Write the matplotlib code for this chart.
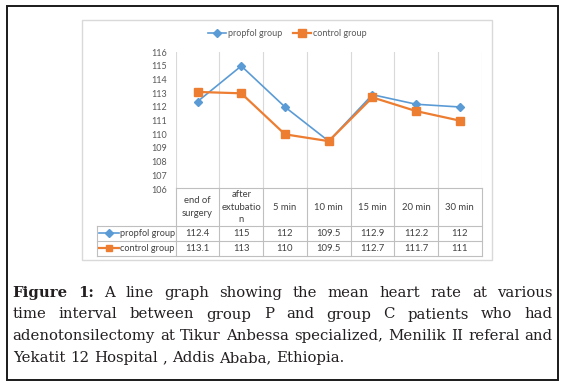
import matplotlib
matplotlib.use("Agg")
import matplotlib.pyplot as plt
from matplotlib.lines import Line2D

# data
categories = ["end of\nsurgery", "after\nextubatio\nn", "5 min", "10 min",
              "15 min", "20 min", "30 min"]
propofol = [112.4, 115, 112, 109.5, 112.9, 112.2, 112]
control = [113.1, 113, 110, 109.5, 112.7, 111.7, 111]
series_names = ["propfol group", "control group"]
y_ticks = list(range(106, 117))

caption_lines = [
    "Figure 1: A line graph showing the mean heart rate at various",
    "time interval between group P and group C patients who had",
    "adenotonsilectomy at Tikur Anbessa specialized, Menilik II referal and",
    "Yekatit 12 Hospital , Addis Ababa, Ethiopia.",
]

W, H = 566, 388
BLUE = "#5b9bd5"
ORANGE = "#ed7d31"
GRID = "#d9d9d9"
TBL = "#bfbfbf"
SANS = ["Lato", "DejaVu Sans"]


def fx(x):
    return x / W


def fy(y):
    return 1 - y / H


fig = plt.figure(figsize=(W / 100, H / 100), dpi=100)

# outer frame and chart frame
fig.add_artist(plt.Rectangle((fx(6.5), fy(380)), fx(551), (380 - 5.5) / H,
                             fill=False, ec="#1a1a1a", lw=1.4,
                             transform=fig.transFigure))
fig.add_artist(plt.Rectangle((fx(81.7), fy(260)), fx(410), (260 - 20) / H,
                             fill=False, ec=GRID, lw=1.0,
                             transform=fig.transFigure))

# plot area
left, right, top, bottom = 175.7, 481.7, 52.3, 189.0
ax = fig.add_axes([fx(left), fy(bottom), fx(right - left), (bottom - top) / H])
n = len(categories)
xs = [i + 0.5 for i in range(n)]
ax.set_xlim(0, n)
ax.set_ylim(min(y_ticks), max(y_ticks))
for b in range(n + 1):
    ax.axvline(b, color=GRID, lw=0.8, zorder=0)
ax.plot(xs, propofol, color=BLUE, lw=1.2, marker="D", ms=4.5,
        label=series_names[0], zorder=3)
ax.plot(xs, control, color=ORANGE, lw=1.6, marker="s", ms=5.5,
        label=series_names[1], zorder=4)
ax.set_yticks(y_ticks)
ax.set_yticklabels([str(t) for t in y_ticks], fontsize=6.5, color="#595959",
                   family=SANS)
ax.tick_params(axis="y", length=0, pad=6)
ax.set_xticks([])
for s in ax.spines.values():
    s.set_visible(False)
ax.patch.set_alpha(0)

leg = fig.legend(*ax.get_legend_handles_labels(), loc="center",
                 bbox_to_anchor=(fx(287), fy(33.3)), ncol=2, frameon=False,
                 prop={"family": SANS, "size": 6.5}, handlelength=2.0,
                 columnspacing=1.2, handletextpad=0.2)
for t in leg.get_texts():
    t.set_color("#595959")

# data table under the plot
t_left, t_top, r1, r2, t_bot = 96.7, 188.3, 225.7, 240.7, 255.7
col_w = (right - left) / n
tax = fig.add_axes([fx(t_left), fy(t_bot), fx(right - t_left), (t_bot - t_top) / H])
tax.set_xlim(-(left - t_left) / col_w, n)
tax.set_ylim(t_bot, t_top)
tax.axis("off")
lk = dict(color=TBL, lw=0.8, clip_on=False)
tax.plot([0, n], [t_top, t_top], **lk)
x0 = tax.get_xlim()[0]
for yy in (r1, r2, t_bot):
    tax.plot([x0, n], [yy, yy], **lk)
for b in range(n + 1):
    tax.plot([b, b], [t_top, t_bot], **lk)
tax.plot([x0, x0], [r1, t_bot], **lk)

txt = dict(family=SANS, size=6.8, color="#404040", ha="center", va="center")
for i, cat in enumerate(categories):
    tax.text(i + 0.5, (t_top + r1) / 2, cat, linespacing=1.45, **txt)
for row_vals, yc in ((propofol, (r1 + r2) / 2), (control, (r2 + t_bot) / 2)):
    for i, v in enumerate(row_vals):
        tax.text(i + 0.5, yc, f"{v:g}", **txt)

for name, color, mk, ms, lw, yc in (
        (series_names[0], BLUE, "D", 4.0, 1.2, (r1 + r2) / 2),
        (series_names[1], ORANGE, "s", 5.0, 1.6, (r2 + t_bot) / 2)):
    fig.add_artist(Line2D([fx(99.3), fx(119.3)], [fy(yc), fy(yc)], color=color,
                          lw=lw, transform=fig.transFigure))
    fig.add_artist(Line2D([fx(109.3)], [fy(yc)], color=color, marker=mk, ms=ms,
                          transform=fig.transFigure))
    fig.text(fx(120.5), fy(yc), name, family=SANS, size=6.6, color="#404040",
             ha="left", va="center")

# justified caption
renderer = fig.canvas.get_renderer()
cap_left, cap_right = 12.7, 552.7
baselines = [296.7, 318.5, 340.4, 362.3]
cap_font = dict(family="DejaVu Serif", color="#231f20", va="baseline",
                ha="left", transform=fig.transFigure)


def width_px(s, size, weight="normal"):
    t = fig.text(0, 0, s, size=size, weight=weight, **cap_font)
    w = t.get_window_extent(renderer).width
    t.remove()
    return w


def lay_line(words, y, size, justify):
    weights = ["bold" if (w in ("Figure", "1:") and y == baselines[0])
               else "normal" for w in words]
    widths = [width_px(w, size, wt) for w, wt in zip(words, weights)]
    space = width_px("a a", size) - width_px("aa", size)
    if justify and len(words) > 1:
        gap = (cap_right - cap_left - sum(widths)) / (len(words) - 1)
    else:
        gap = space
    x = cap_left
    for w, wt, wd in zip(words, weights, widths):
        fig.text(fx(x), fy(y), w, size=size, weight=wt, **cap_font)
        x += wd + gap


# pick the size at which the tightest line just fits with plain spaces
size = 10.0
natural = width_px(caption_lines[2], size)
size = size * (cap_right - cap_left - 4) / natural
for k, line in enumerate(caption_lines):
    lay_line(line.split(" "), baselines[k], size, k < len(caption_lines) - 1)

fig.savefig("out.png", dpi=100)
